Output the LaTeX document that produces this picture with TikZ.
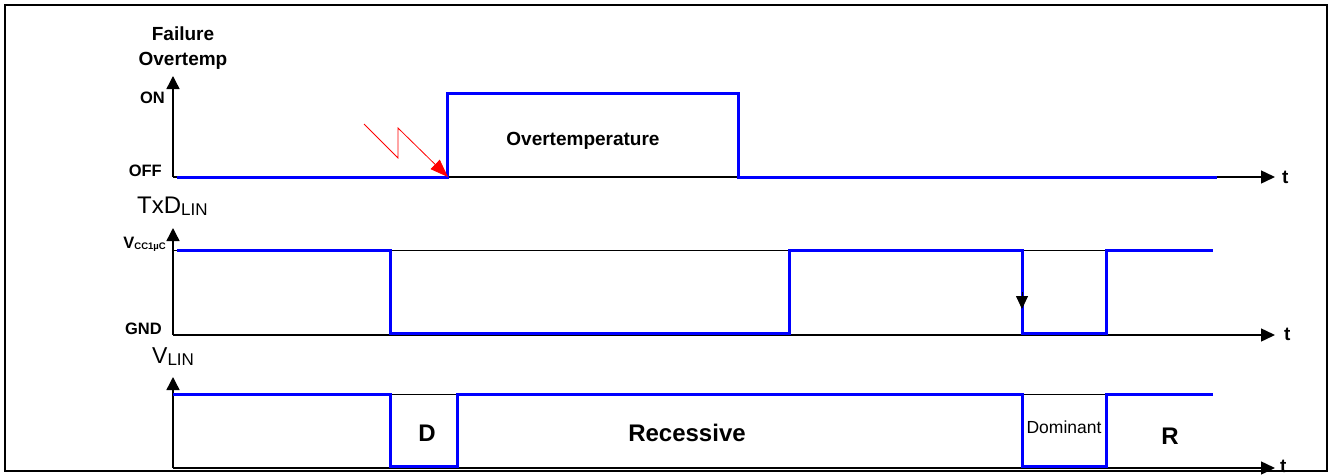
\documentclass[tikz,border=0pt]{standalone}
\usepackage{fontspec}
\setmainfont{Liberation Sans}
\usetikzlibrary{arrows.meta}
\begin{document}
\begin{tikzpicture}[x=1pt,y=-1pt,
  sig/.style={draw=blue, line width=3pt, line join=miter, line cap=butt},
  axis/.style={draw=black, line width=1.4pt},
  yarr/.style={axis, -{Triangle[length=13pt,width=13pt]}},
  tarr/.style={axis, -{Triangle[length=14pt,width=13pt]}},
  ref/.style={draw=black, line width=0.8pt},
  lvl/.style={inner sep=0pt, anchor=base east, font=\bfseries\fontsize{16.5}{16.5}\selectfont},
  big/.style={inner sep=0pt, anchor=base, font=\bfseries\fontsize{24}{24}\selectfont},
  ttl/.style={inner sep=0pt, anchor=base, font=\bfseries\fontsize{19}{19}\selectfont},
  tlab/.style={inner sep=0pt, anchor=base west, font=\bfseries\fontsize{19}{19}\selectfont},
  signame/.style={inner sep=0pt, anchor=base west},
]
\useasboundingbox (0,0) rectangle (1330,474);
\draw[line width=1.4pt] (5,5) rectangle (1327,471);

% ---------------- Panel 1: Failure Overtemp
\node[ttl] (fail) at (183,40) {Failure};
\node[ttl] (otmp) at (183,65) {Overtemp};
\node[lvl] (on) at (165,103) {ON};
\node[lvl] (off) at (162,176) {OFF};
\coordinate (a1o) at (173,177);
\coordinate (a1y) at (173,76);
\coordinate (a1t) at (1275,177);
\draw[yarr] (a1o) -- (a1y);
\draw[tarr] (a1o) -- (a1t);
\node[tlab] (t1) at (1282,183) {t};
\draw[sig] (177,177) -- (447,177) -- (447,93) -- (738,93) -- (738,177) -- (1217,177);
\node[ttl] (ovt) at (583,145) {Overtemperature};
\coordinate (z0) at (364,124);
\coordinate (z1) at (398,158);
\coordinate (z2) at (398,128);
\coordinate (z3) at (448,177);
\draw[red, line width=0.8pt, -{Triangle[length=18pt,width=13pt]}] (z0) -- (z1) -- (z2) -- (z3);

% ---------------- Panel 2: TxD_LIN
\node[signame] (txd) at (137,213) {\fontsize{24}{24}\selectfont TxD\raisebox{-2pt}{\fontsize{17}{17}\selectfont LIN}};
\node[lvl] (vcc) at (166,248) {\fontsize{16.5}{16.5}\selectfont V\raisebox{-1pt}{\fontsize{9.5}{9.5}\selectfont CC1µC}};
\node[lvl] (gnd) at (162,334) {GND};
\coordinate (a2o) at (173,335);
\coordinate (a2y) at (173,228);
\coordinate (a2t) at (1275,335);
\draw[ref] (173,250) -- (1213,250);
\draw[yarr] (a2o) -- (a2y);
\draw[tarr] (a2o) -- (a2t);
\node[tlab] (t2) at (1284,340) {t};
\draw[sig] (177,250) -- (390,250) -- (390,333) -- (789,333) -- (789,250) -- (1022,250) -- (1022,333) -- (1106,333) -- (1106,250) -- (1213,250);
\coordinate (dn0) at (1022,292);
\coordinate (dn1) at (1022,309);
\draw[black, line width=0.8pt, -{Triangle[length=13pt,width=12pt]}] (dn0) -- (dn1);

% ---------------- Panel 3: V_LIN
\node[signame] (vlin) at (152,363) {\fontsize{23}{23}\selectfont V\raisebox{-2pt}{\fontsize{17}{17}\selectfont LIN}};
\coordinate (a3o) at (173,468);
\coordinate (a3y) at (173,377);
\coordinate (a3t) at (1275,468);
\draw[ref] (173,394) -- (1213,394);
\draw[ref] (1106,395.5) -- (1190,395.5);
\draw[yarr] (a3o) -- (a3y);
\draw[tarr] (a3o) -- (a3t);
\node[tlab] (t3) at (1280,472) {t};
\draw[sig] (173,394) -- (390,394) -- (390,466) -- (457,466) -- (457,394) -- (1022,394) -- (1022,466) -- (1106,466) -- (1106,394) -- (1213,394);
\node[big] (dlab) at (427,441) {D};
\node[big] (rec) at (687,441) {Recessive};
\node[inner sep=0pt, anchor=base, font=\fontsize{17.5}{17.5}\selectfont] (dom) at (1064,433) {Dominant};
\node[big] (rlab) at (1170,444) {R};
\end{tikzpicture}
\end{document}
